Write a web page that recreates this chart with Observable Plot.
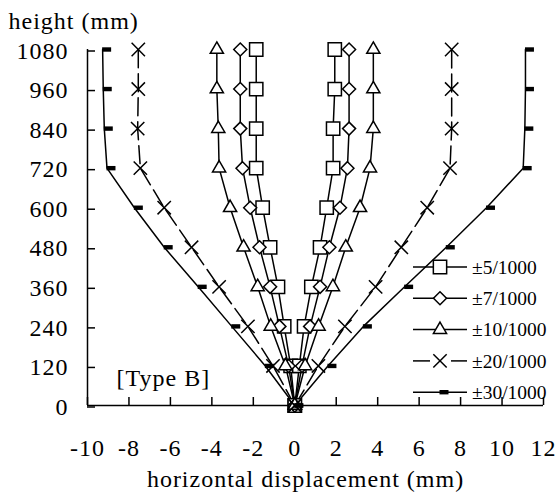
<!DOCTYPE html>
<html>
<head>
<meta charset="utf-8">
<script src="https://cdn.jsdelivr.net/npm/d3@7"></script>
<script src="https://cdn.jsdelivr.net/npm/@observablehq/plot@0.6"></script>
<style>
  html, body { margin: 0; padding: 0; background: #fff; }
  #wrap { position: relative; width: 556px; height: 497px; font-family: "Liberation Serif", "Times New Roman", serif; }
  #wrap svg, #wrap svg text { font-family: "Liberation Serif", "Times New Roman", serif !important; }
  #wrap svg.main text { letter-spacing: 1px; }
  #legend { position: absolute; left: 413px; top: 250px; }
</style>
</head>
<body>
<div id="wrap"></div>
<script>
// ---- data ----
const heights = [0, 120, 240, 360, 480, 600, 720, 840, 960, 1080];
const xTicks = [-10, -8, -6, -4, -2, 0, 2, 4, 6, 8, 10, 12];
const yTicks = [0, 120, 240, 360, 480, 600, 720, 840, 960, 1080];
const seriesNames = ["±5/1000", "±7/1000", "±10/1000", "±20/1000", "±30/1000"];

const left5   = [0, -0.20, -0.51, -0.81, -1.19, -1.55, -1.86, -1.86, -1.86, -1.86];
const right5  = [0,  0.22,  0.45,  0.80,  1.22,  1.54,  1.85,  1.85,  1.93,  1.93];
const left7   = [0, -0.30, -0.74, -1.19, -1.70, -2.15, -2.52, -2.63, -2.63, -2.63];
const right7  = [0,  0.35,  0.74,  1.22,  1.67,  2.18,  2.54,  2.62,  2.62,  2.62];
const left10  = [0, -0.45, -1.16, -1.79, -2.47, -3.12, -3.65, -3.69, -3.76, -3.76];
const right10 = [0,  0.50,  1.15,  1.84,  2.46,  3.15,  3.63,  3.79,  3.79,  3.79];
const left20  = [0, -1.05, -2.26, -3.65, -4.98, -6.30, -7.45, -7.58, -7.55, -7.55];
const right20 = [0,  1.14,  2.42,  3.90,  5.14,  6.39,  7.49,  7.57,  7.57,  7.57];
const left30  = [0, -1.42, -3.04, -4.66, -6.30, -7.74, -9.06, -9.19, -9.24, -9.27];
const right30 = [0,  1.60,  3.31,  5.30,  7.31,  9.25, 11.02, 11.10, 11.13, 11.13];

const leftValues = [left5, left7, left10, left20, left30];
const rightValues = [right5, right7, right10, right20, right30];

// ---- styles ----
const dashSymbol = {
  draw(ctx) {
    ctx.moveTo(-0.5, -2.2); ctx.lineTo(8.5, -2.2); ctx.lineTo(8.5, 2.2); ctx.lineTo(-0.5, 2.2); ctx.closePath();
  }
};
const styles = [
  {symbol: "square",   d3type: d3.symbolSquare,   size: 177, fill: "white", stroke: "black", dash: null},
  {symbol: "diamond2", d3type: d3.symbolDiamond2, size: 108, fill: "white", stroke: "black", dash: null},
  {symbol: "triangle", d3type: d3.symbolTriangle, size: 75,  fill: "white", stroke: "black", dash: null},
  {symbol: "times",    d3type: d3.symbolTimes,    size: 118, fill: "none",  stroke: "black", dash: "18,6"},
  {symbol: dashSymbol, d3type: dashSymbol,        size: 64,  fill: "black", stroke: "none",  dash: null}
];

const rows = seriesNames.flatMap((name, i) =>
  [["L", leftValues[i]], ["R", rightValues[i]]].flatMap(([side, vals]) =>
    vals.map((v, j) => ({series: name, side, x: v, h: heights[j]}))));

const font = '"Liberation Serif", "Times New Roman", serif';

const lineMarks = seriesNames.map((name, i) =>
  Plot.line(rows.filter(d => d.series === name), {
    x: "x", y: "h", z: "side", stroke: "black", strokeWidth: 1.5,
    strokeDasharray: styles[i].dash
  }));
const dotMarks = seriesNames.map((name, i) =>
  Plot.dot(rows.filter(d => d.series === name), {
    x: "x", y: "h", symbol: styles[i].symbol, r: Math.sqrt(styles[i].size / Math.PI),
    fill: styles[i].fill, stroke: styles[i].stroke, strokeWidth: 1.5
  }));

const chart = Plot.plot({
  width: 556, height: 497,
  marginLeft: 87, marginRight: 13, marginTop: 49, marginBottom: 92,
  className: "main",
  x: {domain: [-10, 12]},
  y: {domain: [0, 1080]},
  style: {fontFamily: font, fontSize: "24px", color: "black", background: "white", overflow: "visible"},
  marks: [
    Plot.ruleX([-10], {stroke: "black", strokeWidth: 1.5}),
    Plot.ruleY([0], {stroke: "black", strokeWidth: 1.5}),
    Plot.axisX({ticks: xTicks, tickSize: -8, tickPadding: 41, label: null, fontSize: 24, fontFamily: font, strokeWidth: 1.5, tickFormat: d => String(d)}),
    Plot.axisY({ticks: yTicks, tickSize: -8, tickPadding: 27, dy: 1.5, label: null, fontSize: 24, fontFamily: font, strokeWidth: 1.5, tickFormat: d => String(d)}),
    ...lineMarks,
    ...dotMarks,
    Plot.text(["height (mm)"], {text: d => d, frameAnchor: "top-left", lineAnchor: "middle", textAnchor: "start", dx: -79, dy: -28.5, fontSize: 24, fontFamily: font}),
    Plot.text(["horizontal displacement (mm)"], {text: d => d, frameAnchor: "bottom", lineAnchor: "middle", dx: -10, dy: 74, fontSize: 24, fontFamily: font}),
    Plot.text(["[Type B]"], {text: d => d, frameAnchor: "bottom-left", lineAnchor: "middle", textAnchor: "start", dx: 29, dy: -27, fontSize: 24, fontFamily: font})
  ]
});

const wrap = document.getElementById("wrap");
wrap.appendChild(chart);

// ---- legend (overlaid inside the plot area, like the reference) ----
const lg = d3.select(wrap).append("svg")
  .attr("id", "legend").attr("width", 143).attr("height", 160)
  .style("overflow", "visible");
seriesNames.forEach((name, i) => {
  const g = lg.append("g").attr("transform", `translate(0,${17 + i * 31.3})`);
  if (styles[i].dash) {
    g.append("line").attr("x1", 0).attr("x2", 17).attr("y1", 0).attr("y2", 0).attr("stroke", "black").attr("stroke-width", 1.5);
    g.append("line").attr("x1", 38).attr("x2", 54).attr("y1", 0).attr("y2", 0).attr("stroke", "black").attr("stroke-width", 1.5);
  } else {
    g.append("line").attr("x1", 0).attr("x2", 54).attr("y1", 0).attr("y2", 0).attr("stroke", "black").attr("stroke-width", 1.5);
  }
  g.append("path")
    .attr("transform", "translate(27,0)")
    .attr("d", d3.symbol(styles[i].d3type, styles[i].size)())
    .attr("fill", styles[i].fill).attr("stroke", styles[i].stroke).attr("stroke-width", 1.5);
  g.append("text").attr("x", 59).attr("y", 0).attr("dy", "0.34em")
    .attr("font-family", font).attr("font-size", 19.5).attr("fill", "black")
    .text(name);
});
</script>
</body>
</html>
